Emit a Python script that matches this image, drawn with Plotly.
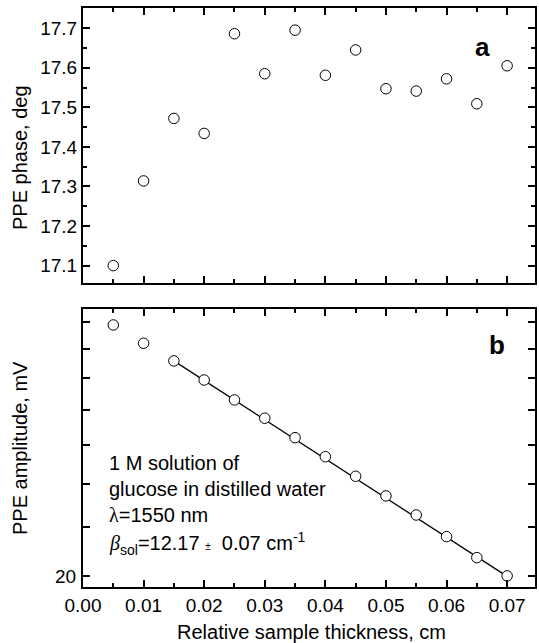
import plotly.graph_objects as go
import math

# ---------------- data ----------------
thickness = [0.005, 0.010, 0.015, 0.020, 0.025, 0.030, 0.035,
             0.040, 0.045, 0.050, 0.055, 0.060, 0.065, 0.070]
phase_deg = [17.100, 17.314, 17.472, 17.434, 17.686, 17.585, 17.695,
             17.581, 17.645, 17.547, 17.541, 17.572, 17.509, 17.605]
amplitude_mV = [40.70, 38.65, 36.77, 34.84, 32.93, 31.27, 29.60,
                28.05, 26.54, 25.11, 23.79, 22.38, 21.09, 20.03]
fit_x = [0.015, 0.070]
fit_amp = [36.77, 20.0]

x_ticks = [0.00, 0.01, 0.02, 0.03, 0.04, 0.05, 0.06, 0.07]
amp_tickvals = [20, 23, 26, 29, 32, 35, 38, 41]
amp_label_value = 20

FONT = "Liberation Sans, Arial, sans-serif"

W, H = 539, 643
ML, MR, MT, MB = 83, 4, 8, 56

marker = dict(symbol="circle", size=10.5, color="white",
              line=dict(color="black", width=1))

fig = go.Figure()
fig.add_trace(go.Scatter(x=thickness, y=phase_deg, mode="markers",
                         marker=marker, xaxis="x", yaxis="y", showlegend=False))
fig.add_trace(go.Scatter(x=fit_x, y=fit_amp, mode="lines",
                         line=dict(color="black", width=1.3),
                         xaxis="x2", yaxis="y2", showlegend=False))
fig.add_trace(go.Scatter(x=thickness, y=amplitude_mV, mode="markers",
                         marker=marker, xaxis="x2", yaxis="y2", showlegend=False))

common = dict(showline=True, linewidth=2, linecolor="black", mirror="ticks",
              ticks="inside", ticklen=7, tickwidth=1.5, tickcolor="black",
              showgrid=False, zeroline=False, automargin=False,
              tickfont=dict(family=FONT, size=19, color="black"))
minor = dict(ticks="inside", ticklen=4, tickwidth=1.5, tickcolor="black")

xr = [0, 0.0746]
fig.update_layout(
    width=W, height=H,
    margin=dict(l=ML, r=MR, t=MT, b=MB),
    paper_bgcolor="white", plot_bgcolor="white",
    font=dict(family=FONT, color="black"),
    xaxis=dict(domain=[0, 1], anchor="y", range=xr, tickvals=x_ticks,
               showticklabels=False, minor=dict(dtick=0.005, **minor), **common),
    yaxis=dict(domain=[0.525, 1], anchor="x", range=[17.056, 17.751], dtick=0.1,
               tickformat=".1f", minor=dict(dtick=0.05, **minor), **common),
    xaxis2=dict(domain=[0, 1], anchor="y2", range=xr, tickvals=x_ticks,
                tickformat=".2f", minor=dict(dtick=0.005, **minor), **common),
    yaxis2=dict(domain=[0, 0.48], anchor="x2", type="log",
                range=[math.log10(19.41), math.log10(42.57)],
                tickvals=amp_tickvals, showticklabels=False, **common),
)

ph = H - MT - MB
pw = W - ML - MR


def px(xp):
    return (xp - ML) / pw


def py(yp):
    return (H - MB - yp) / ph


# single labelled tick of the amplitude axis
fig.add_annotation(text=str(amp_label_value), xref="paper", yref="y2",
                   x=px(78), y=math.log10(amp_label_value),
                   xanchor="right", yanchor="middle", showarrow=False,
                   font=dict(family=FONT, size=19, color="black"))

title_font = dict(family=FONT, size=20, color="black")
fig.add_annotation(text="Relative sample thickness, cm", xref="paper", yref="paper",
                   x=px(311), y=py(632), xanchor="center", yanchor="middle",
                   showarrow=False, font=title_font)
fig.add_annotation(text="PPE phase, deg", xref="paper", yref="paper",
                   x=px(20), y=py(158), xanchor="center", yanchor="middle",
                   textangle=-90, showarrow=False, font=title_font)
fig.add_annotation(text="PPE amplitude, mV", xref="paper", yref="paper",
                   x=px(20), y=py(448), xanchor="center", yanchor="middle",
                   textangle=-90, showarrow=False, font=title_font)

ann_font = dict(family=FONT, size=20, color="black")
lines = [
    ("1 M solution of", 463),
    ("glucose in distilled water", 489),
    ("<span style='font-family:Liberation Serif'>λ</span>=1550 nm", 515),
    ("<i><span style='font-family:Liberation Serif'>β</span></i><sub>sol</sub>=12.17 "
     "<span style='font-size:10px'>±</span> &nbsp;0.07 cm<sup>-1</sup>", 543),
]
for txt, yy in lines:
    fig.add_annotation(text=txt, xref="paper", yref="paper", x=px(107), y=py(yy),
                       xanchor="left", yanchor="middle", showarrow=False,
                       font=ann_font)

fig.add_annotation(text="<b>a</b>", xref="paper", yref="paper", x=px(482), y=py(47),
                   xanchor="center", yanchor="middle", showarrow=False,
                   font=dict(family=FONT, size=26, color="black"))
fig.add_annotation(text="<b>b</b>", xref="paper", yref="paper", x=px(497), y=py(345),
                   xanchor="center", yanchor="middle", showarrow=False,
                   font=dict(family=FONT, size=26, color="black"))

fig.write_html("out.html",
               config={"displayModeBar": False},
               post_script="document.body.style.margin='0px';"
                           "document.body.style.overflow='hidden';")
